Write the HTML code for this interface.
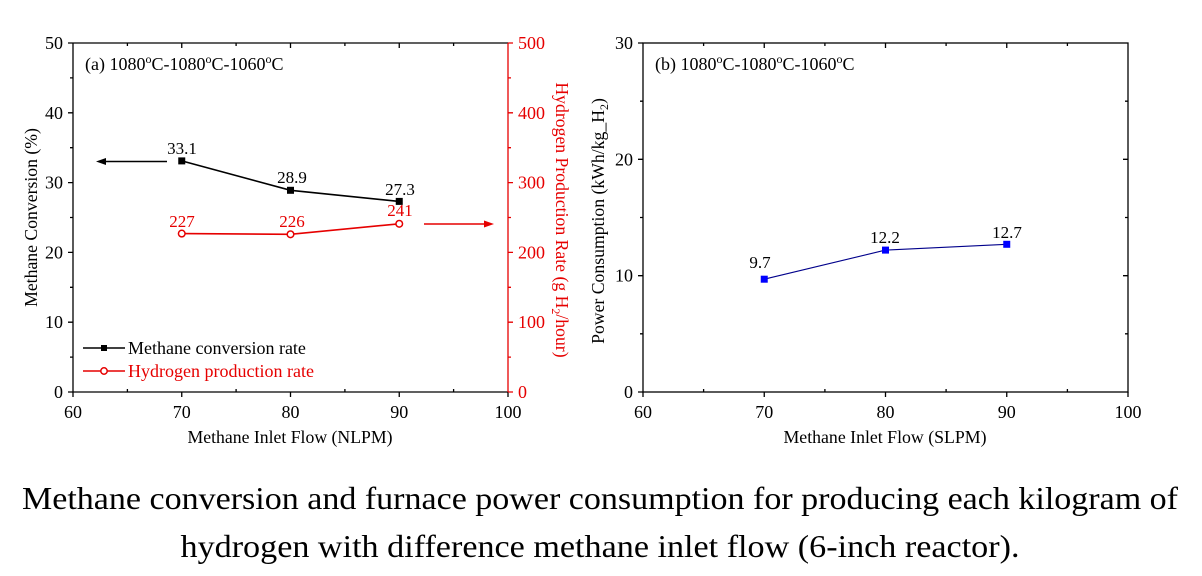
<!DOCTYPE html>
<html><head><meta charset="utf-8"><style>
html,body{margin:0;padding:0;background:#fff;}
svg{display:block;}
text{font-family:"Liberation Serif","Times New Roman",serif;}
</style></head><body>
<svg width="1202" height="576" viewBox="0 0 1202 576" xmlns="http://www.w3.org/2000/svg">
<rect width="1202" height="576" fill="#fff"/>

<!-- ========== LEFT CHART ========== -->
<g stroke="#000" stroke-width="1.3" fill="none">
  <path d="M73 43 V392 H508"/>
  <path d="M73 43 H508"/>
  <path d="M73 392h-5M73 322.2h-5M73 252.4h-5M73 182.6h-5M73 112.8h-5M73 43h-5"/>
  <path d="M73 357.1h-3M73 287.3h-3M73 217.5h-3M73 147.7h-3M73 77.9h-3"/>
  <path d="M73 392v5M181.75 392v5M290.5 392v5M399.25 392v5M508 392v5"/>
  <path d="M127.4 392v-3M236.1 392v-3M344.9 392v-3M453.6 392v-3"/>
  <path d="M181.75 43v5M290.5 43v5M399.25 43v5"/>
  <path d="M127.4 43v3M236.1 43v3M344.9 43v3M453.6 43v3"/>
</g>
<g stroke="#e60000" stroke-width="1.3" fill="none">
  <path d="M508 43 V392"/>
  <path d="M508 392h5M508 322.2h5M508 252.4h5M508 182.6h5M508 112.8h5M508 43h5"/>
  <path d="M508 357.1h3M508 287.3h3M508 217.5h3M508 147.7h3M508 77.9h3"/>
</g>

<g font-size="18" fill="#000" text-anchor="end">
  <text x="63" y="398">0</text>
  <text x="63" y="328.2">10</text>
  <text x="63" y="258.4">20</text>
  <text x="63" y="188.6">30</text>
  <text x="63" y="118.8">40</text>
  <text x="63" y="49">50</text>
</g>
<g font-size="18" fill="#e60000" text-anchor="start">
  <text x="518" y="398">0</text>
  <text x="518" y="328.2">100</text>
  <text x="518" y="258.4">200</text>
  <text x="518" y="188.6">300</text>
  <text x="518" y="118.8">400</text>
  <text x="518" y="49">500</text>
</g>
<g font-size="18" fill="#000" text-anchor="middle">
  <text x="73" y="418">60</text>
  <text x="181.75" y="418">70</text>
  <text x="290.5" y="418">80</text>
  <text x="399.25" y="418">90</text>
  <text x="508" y="418">100</text>
</g>

<text x="290" y="443" font-size="17.7" text-anchor="middle" textLength="205" lengthAdjust="spacingAndGlyphs">Methane Inlet Flow (NLPM)</text>
<text transform="translate(37,217.5) rotate(-90)" font-size="17.7" text-anchor="middle">Methane Conversion (%)</text>
<text transform="translate(556,220) rotate(90)" font-size="17.7" text-anchor="middle" fill="#e60000">Hydrogen Production Rate (g H<tspan font-size="12" dy="4">2</tspan><tspan dy="-4">/hour)</tspan></text>

<text x="85" y="70" font-size="18">(a) 1080<tspan font-size="12" dy="-7">o</tspan><tspan dy="7">C-1080</tspan><tspan font-size="12" dy="-7">o</tspan><tspan dy="7">C-1060</tspan><tspan font-size="12" dy="-7">o</tspan><tspan dy="7">C</tspan></text>

<polyline points="181.75,160.9 290.5,190.3 399.25,201.4" fill="none" stroke="#000" stroke-width="1.6"/>
<g fill="#000">
  <rect x="178.25" y="157.4" width="7" height="7"/>
  <rect x="287" y="186.8" width="7" height="7"/>
  <rect x="395.75" y="197.9" width="7" height="7"/>
</g>
<g font-size="17" text-anchor="middle" fill="#000">
  <text x="182" y="154">33.1</text>
  <text x="292" y="183">28.9</text>
  <text x="400" y="195">27.3</text>
</g>
<polyline points="181.75,233.6 290.5,234.3 399.25,223.8" fill="none" stroke="#e60000" stroke-width="1.6"/>
<g fill="#fff" stroke="#e60000" stroke-width="1.5">
  <circle cx="181.75" cy="233.6" r="3.3"/>
  <circle cx="290.5" cy="234.3" r="3.3"/>
  <circle cx="399.25" cy="223.8" r="3.3"/>
</g>
<g font-size="17" text-anchor="middle" fill="#e60000">
  <text x="182" y="227">227</text>
  <text x="292" y="227">226</text>
  <text x="400" y="216">241</text>
</g>

<path d="M167 161.5 H104" stroke="#000" stroke-width="1.6"/>
<path d="M96 161.5 L106 158 L106 165 Z" fill="#000"/>
<path d="M424 224 H486" stroke="#e60000" stroke-width="1.6"/>
<path d="M494 224 L484 220.5 L484 227.5 Z" fill="#e60000"/>

<path d="M83 348 H125" stroke="#000" stroke-width="1.6"/>
<rect x="101" y="345" width="6" height="6" fill="#000"/>
<text x="128" y="354" font-size="18" fill="#000">Methane conversion rate</text>
<path d="M83 371 H125" stroke="#e60000" stroke-width="1.6"/>
<circle cx="104" cy="371" r="3.2" fill="#fff" stroke="#e60000" stroke-width="1.5"/>
<text x="128" y="377" font-size="18" fill="#e60000">Hydrogen production rate</text>

<!-- ========== RIGHT CHART ========== -->
<g stroke="#000" stroke-width="1.3" fill="none">
  <rect x="643" y="43" width="485" height="349"/>
  <path d="M643 392h-5M643 275.7h-5M643 159.3h-5M643 43h-5"/>
  <path d="M643 333.8h-3M643 217.5h-3M643 101.2h-3"/>
  <path d="M1128 275.7h-5M1128 159.3h-5"/>
  <path d="M1128 333.8h-3M1128 217.5h-3M1128 101.2h-3"/>
  <path d="M643 392v5M764.25 392v5M885.5 392v5M1006.75 392v5M1128 392v5"/>
  <path d="M703.6 392v-3M824.9 392v-3M946.1 392v-3M1067.4 392v-3"/>
  <path d="M764.25 43v5M885.5 43v5M1006.75 43v5"/>
  <path d="M703.6 43v3M824.9 43v3M946.1 43v3M1067.4 43v3"/>
</g>
<g font-size="18" fill="#000" text-anchor="end">
  <text x="633" y="398">0</text>
  <text x="633" y="281.7">10</text>
  <text x="633" y="165.3">20</text>
  <text x="633" y="49">30</text>
</g>
<g font-size="18" fill="#000" text-anchor="middle">
  <text x="643" y="418">60</text>
  <text x="764.25" y="418">70</text>
  <text x="885.5" y="418">80</text>
  <text x="1006.75" y="418">90</text>
  <text x="1128" y="418">100</text>
</g>
<text x="885" y="443" font-size="17.7" text-anchor="middle" textLength="203" lengthAdjust="spacingAndGlyphs">Methane Inlet Flow (SLPM)</text>
<text transform="translate(604,221) rotate(-90)" font-size="17.7" text-anchor="middle">Power Consumption (kWh/kg_H<tspan font-size="12" dy="4">2</tspan><tspan dy="-4">)</tspan></text>

<text x="655" y="70" font-size="18">(b) 1080<tspan font-size="12" dy="-7">o</tspan><tspan dy="7">C-1080</tspan><tspan font-size="12" dy="-7">o</tspan><tspan dy="7">C-1060</tspan><tspan font-size="12" dy="-7">o</tspan><tspan dy="7">C</tspan></text>

<polyline points="764.25,279.2 885.5,250.1 1006.75,244.3" fill="none" stroke="#00008b" stroke-width="1.1"/>
<g fill="#0000ff">
  <rect x="760.75" y="275.7" width="7" height="7"/>
  <rect x="882" y="246.6" width="7" height="7"/>
  <rect x="1003.25" y="240.8" width="7" height="7"/>
</g>
<g font-size="17" text-anchor="middle" fill="#000">
  <text x="760" y="268">9.7</text>
  <text x="885" y="243">12.2</text>
  <text x="1007" y="238">12.7</text>
</g>

<text x="600" y="509" font-size="32" text-anchor="middle" textLength="1156" lengthAdjust="spacingAndGlyphs">Methane conversion and furnace power consumption for producing each kilogram of</text>
<text x="600" y="557" font-size="32" text-anchor="middle" textLength="839" lengthAdjust="spacingAndGlyphs">hydrogen with difference methane inlet flow (6-inch reactor).</text>
</svg>
</body></html>
